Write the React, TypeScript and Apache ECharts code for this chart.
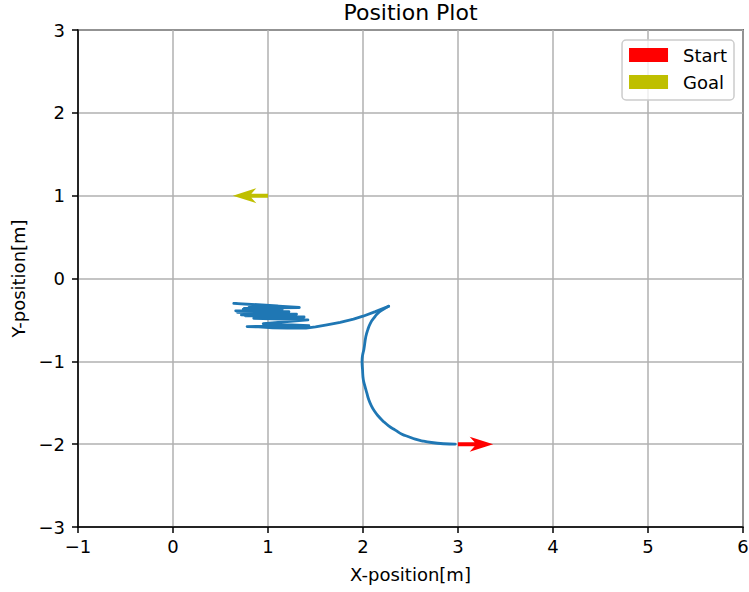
import React, { useEffect, useRef } from "react";
import * as echarts from "echarts";

// Trajectory part 1: the smooth arc from the start
const arcX: number[] = [
  2.97, 2.85, 2.72, 2.62, 2.55, 2.48, 2.41, 2.34, 2.27, 2.21, 2.16, 2.12, 2.09, 2.06, 2.04, 2.02, 2.003, 1.995, 1.99,
  1.995, 2.01, 2.03, 2.05, 2.08, 2.12, 2.16, 2.21, 2.27,
];
const arcY: number[] = [
  -2.0, -1.995, -1.98, -1.96, -1.94, -1.91, -1.88, -1.83, -1.78, -1.72, -1.66, -1.6, -1.54, -1.46, -1.38, -1.3, -1.22,
  -1.1, -1.0,
  -0.93, -0.85, -0.7, -0.62, -0.535, -0.47, -0.415, -0.375, -0.335,
];
// Trajectory part 2: return and the jittery back-and-forth near x = 1
const wanderX: number[] = [
  2.27, 2.13, 2.0, 1.9, 1.76, 1.62, 1.5, 1.4, 1.3, 1.2, 1.05, 0.9, 0.78,
  1.43, 0.95, 1.42, 0.85, 1.38, 0.72, 1.3, 0.68, 1.22, 0.66, 1.15, 0.75, 1.33, 0.64, 1.1, 0.8, 1.12, 0.78, 1.1, 0.82,
  1.08, 0.76, 1.12, 0.8, 1.05, 0.74, 1.1, 0.85, 1.0, 0.9, 1.0,
];
const wanderY: number[] = [
  -0.335, -0.4, -0.455, -0.49, -0.53, -0.56, -0.585, -0.6, -0.6, -0.6, -0.595, -0.585, -0.58,
  -0.57, -0.545, -0.5, -0.48, -0.465, -0.44, -0.43, -0.41, -0.4, -0.39, -0.37, -0.36, -0.35, -0.3, -0.33, -0.35,
  -0.38, -0.4, -0.42, -0.44, -0.455, -0.45, -0.43, -0.42, -0.39, -0.37, -0.36, -0.38, -0.4, -0.42, -0.41,
];

// Arrows: [x, y, dx, dy]
const startArrow: number[] = [3.0, -2.0, 0.37, 0.0];
const goalArrow: number[] = [1.0, 1.0, -0.37, 0.0];

const xTicks = { min: -1, max: 6, interval: 1 };
const yTicks = { min: -3, max: 3, interval: 1 };

const FONT = "DejaVu Sans";
const BLUE = "#1f77b4";
const fmt = (v: number) => String(v).replace("-", "\u2212");

function arrowRender(params: any, api: any) {
  const x0 = api.value(0), y0 = api.value(1), dx = api.value(2), dy = api.value(3);
  const p0 = api.coord([x0, y0]);
  const p1 = api.coord([x0 + dx, y0 + dy]);
  const ang = Math.atan2(p1[1] - p0[1], p1[0] - p0[0]);
  const L = Math.hypot(p1[0] - p0[0], p1[1] - p0[1]);
  const hw = 2, headLen = 23.5, headHW = 7.5, notch = 18.5;
  const local = [
    [0, -hw], [L - notch, -hw], [L - headLen, -headHW], [L, 0],
    [L - headLen, headHW], [L - notch, hw], [0, hw],
  ];
  const c = Math.cos(ang), s = Math.sin(ang);
  const pts = local.map(([a, b]) => [p0[0] + a * c - b * s, p0[1] + a * s + b * c]);
  return { type: "polygon", shape: { points: pts }, style: { fill: api.visual("color") } };
}

export default function App() {
  const ref = useRef<HTMLDivElement>(null);
  useEffect(() => {
    if (!ref.current) return;
    const chart = echarts.init(ref.current, undefined, { renderer: "svg" });
    const arcData = arcX.map((x, i) => [x, arcY[i]]);
    const wanderData = wanderX.map((x, i) => [x, wanderY[i]]);
    const axisCommon = {
      type: "value",
      axisLine: { show: true, onZero: false, lineStyle: { color: "#000", width: 1.5 } },
      axisTick: { show: true, inside: false, length: 6, lineStyle: { color: "#000", width: 1.5 } },
      splitLine: { show: true, lineStyle: { color: "#b0b0b0", width: 1.5 } },
      nameLocation: "middle",
      nameTextStyle: { fontFamily: FONT, fontSize: 18, color: "#000" },
    };
    const lineCommon = {
      type: "line", showSymbol: false, symbol: "none",
      lineStyle: { color: BLUE, width: 2.8, join: "round", cap: "round" },
      itemStyle: { color: BLUE }, z: 3,
    };
    chart.setOption({
      animation: false,
      backgroundColor: "#fff",
      grid: {
        left: 78, right: 6, top: 30, bottom: 65, containLabel: false, outerBoundsMode: "none",
        show: true, borderColor: "#000", borderWidth: 1.5, backgroundColor: "transparent",
      },
      graphic: [
        {
          type: "text", x: 410.5, y: 12,
          style: { text: "Position Plot", fontFamily: FONT, fontSize: 22, fill: "#000", textAlign: "center", textVerticalAlign: "middle" },
        },
      ],
      legend: {
        data: [{ name: "Start", icon: "rect" }, { name: "Goal", icon: "rect" }],
        orient: "vertical",
        right: 15, top: 40,
        itemWidth: 39, itemHeight: 14, itemGap: 9,
        padding: [6, 7, 9, 7],
        backgroundColor: "rgba(255,255,255,0.8)",
        borderColor: "#cccccc", borderWidth: 1.5, borderRadius: 4,
        textStyle: { fontFamily: FONT, fontSize: 18, color: "#000", lineHeight: 18, padding: [0, 0, 0, 10] },
        selectedMode: false,
      },
      xAxis: {
        ...axisCommon,
        min: xTicks.min, max: xTicks.max, interval: xTicks.interval,
        name: "X-position[m]", nameGap: 38,
        axisLabel: { fontFamily: FONT, fontSize: 18, color: "#000", margin: 10, formatter: fmt },
      },
      yAxis: {
        ...axisCommon,
        min: yTicks.min, max: yTicks.max, interval: yTicks.interval,
        name: "Y-position[m]", nameGap: 49, nameRotate: 90,
        axisLabel: { fontFamily: FONT, fontSize: 18, color: "#000", margin: 13, formatter: fmt },
      },
      series: [
        { ...lineCommon, name: "Arc", data: arcData, smooth: 0.5 },
        { ...lineCommon, name: "Wander", data: wanderData, smooth: false },
        {
          name: "Start", type: "custom", renderItem: arrowRender, data: [startArrow],
          encode: { x: 0, y: 1 }, itemStyle: { color: "#ff0000" }, z: 4,
        },
        {
          name: "Goal", type: "custom", renderItem: arrowRender, data: [goalArrow],
          encode: { x: 0, y: 1 }, itemStyle: { color: "#bfbf00" }, z: 4,
        },
      ],
    });
    return () => chart.dispose();
  }, []);
  return <div ref={ref} style={{ position: "fixed", left: 0, top: 0, width: 749, height: 592 }} />;
}
